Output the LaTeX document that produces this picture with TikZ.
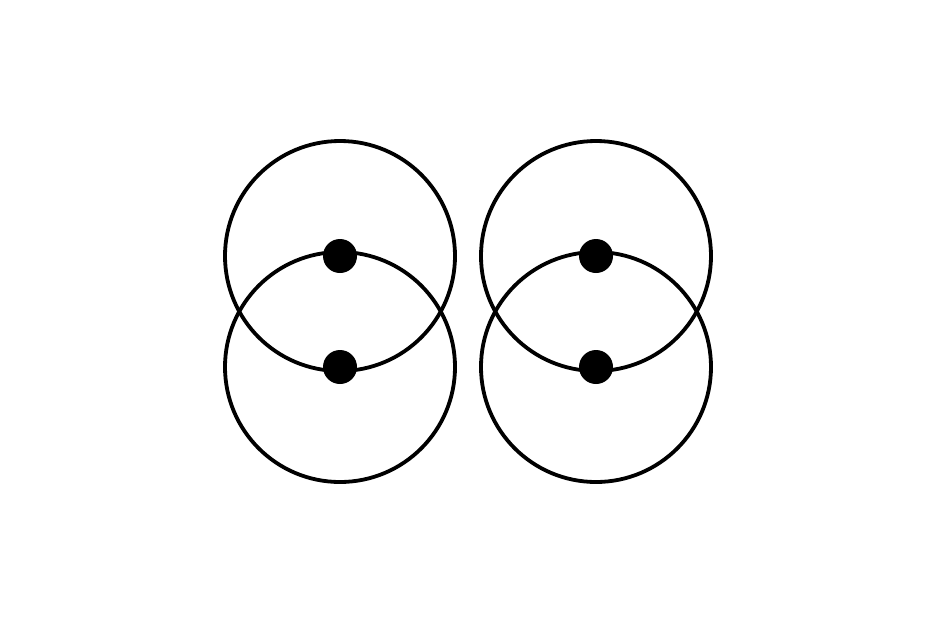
\documentclass[tikz,border=0pt]{standalone}
\begin{document}
\begin{tikzpicture}[x=1pt,y=-1pt,
  ring/.style={circle,draw=black,line width=3.8pt,minimum size=230pt,inner sep=0pt},
  dot/.style={circle,fill=black,minimum size=34pt,inner sep=0pt}]
\useasboundingbox (0,0) rectangle (938,625);
\node[ring] (lt) at (340,256) {};
\node[ring] (lb) at (340,367) {};
\node[ring] (rt) at (596,256) {};
\node[ring] (rb) at (596,367) {};
\node[dot] (ltd) at (lt.center) {};
\node[dot] (lbd) at (lb.center) {};
\node[dot] (rtd) at (rt.center) {};
\node[dot] (rbd) at (rb.center) {};
\end{tikzpicture}
\end{document}
